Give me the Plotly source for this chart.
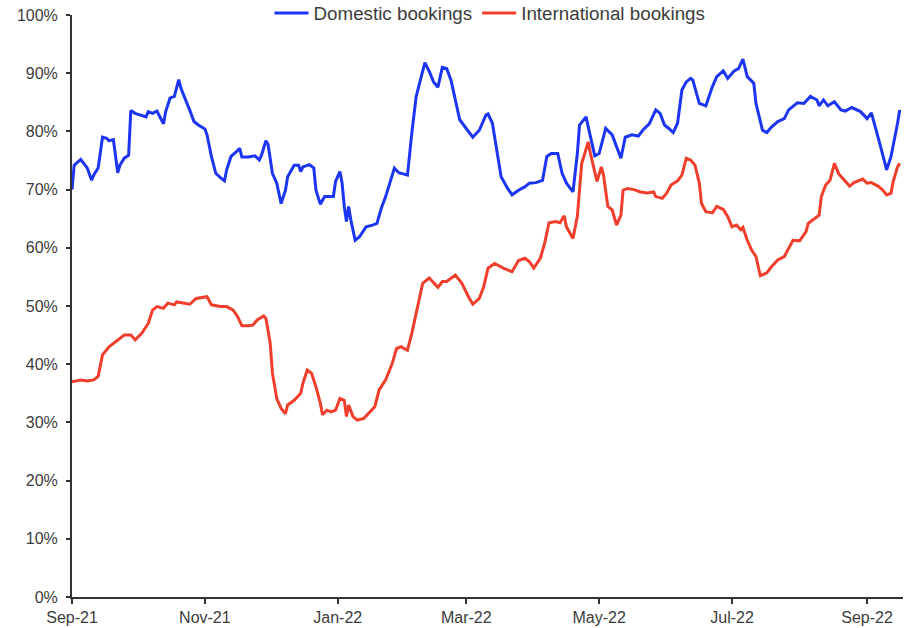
"""Domestic vs international bookings, Sep-21 to Sep-22."""

import pandas as pd
import plotly.graph_objects as go

START = pd.Timestamp("2021-09-01")

# days since 1 Sep 2021, value in %
dom_day = [0, 1, 4, 6, 7, 9, 10, 12, 14, 16, 17, 19, 21, 22, 24, 26, 27, 29, 32, 34, 35, 37, 39, 40, 42, 43,
           45, 47, 49, 50, 52, 54, 56, 58, 61, 62, 64, 66, 68, 70, 71, 73, 76, 77, 78, 81, 84, 86, 87, 89, 90,
           92, 94, 96, 98, 99, 102, 104, 105, 106, 109, 111, 112, 114, 116, 118, 120, 121, 123, 124, 125, 126,
           127, 128, 130, 132, 135, 138, 140, 142, 144, 148, 150, 152, 154, 156, 158, 162, 164, 166, 168, 170,
           172, 174, 176, 178, 181, 184, 187, 190, 191, 193, 195, 197, 200, 202, 205, 208, 210, 213, 216, 218,
           220, 223, 225, 227, 230, 232, 233, 236, 238, 240, 242, 244, 245, 248, 250, 252, 254, 257, 260, 262,
           265, 268, 270, 272, 274, 276, 278, 280, 282, 284, 285, 288, 291, 294, 296, 299, 301, 304, 306, 308,
           310, 313, 314, 317, 319, 321, 324, 327, 329, 333, 336, 339, 342, 343, 345, 347, 350, 353, 355, 358,
           362, 365, 367, 369, 371, 374, 376, 379, 380]
dom_val = [70.0, 74.2, 75.2, 74.2, 73.7, 71.6, 72.5, 73.7, 79.0, 78.8, 78.4, 78.6, 72.9, 74.2, 75.4, 75.9,
           83.6, 83.1, 82.8, 82.5, 83.4, 83.1, 83.5, 82.8, 81.3, 83.4, 85.7, 86.0, 88.9, 87.4, 85.7, 83.7,
           81.7, 81.1, 80.4, 79.4, 75.7, 72.8, 72.1, 71.5, 73.4, 75.7, 76.7, 77.1, 75.6, 75.6, 75.8, 75.1,
           75.9, 78.4, 77.8, 72.8, 71.1, 67.6, 69.9, 72.2, 74.2, 74.2, 73.1, 73.9, 74.3, 73.7, 69.9, 67.5,
           68.8, 68.8, 68.8, 71.4, 73.1, 71.1, 67.1, 64.5, 67.1, 64.8, 61.3, 61.9, 63.6, 63.9, 64.2, 66.8,
           68.8, 73.7, 72.9, 72.7, 72.5, 79.7, 86.0, 91.8, 90.3, 88.5, 87.6, 91.0, 90.8, 88.8, 85.4, 82.0,
           80.5, 79.0, 80.2, 82.8, 83.0, 81.4, 76.8, 72.2, 70.2, 69.1, 69.9, 70.5, 71.1, 71.2, 71.6, 75.7,
           76.2, 76.2, 72.8, 71.1, 69.6, 76.2, 81.1, 82.5, 79.1, 75.8, 76.2, 78.8, 80.5, 79.4, 77.4, 75.4,
           79.0, 79.4, 79.2, 80.2, 81.3, 83.7, 83.1, 81.1, 80.5, 79.8, 81.4, 87.1, 88.5, 89.1, 88.8, 84.8,
           84.4, 87.7, 89.4, 90.4, 89.1, 90.4, 90.8, 92.4, 89.4, 88.3, 84.8, 80.2, 79.8, 80.7, 81.7, 82.2,
           83.7, 84.9, 84.8, 86.0, 85.4, 84.4, 85.4, 84.4, 85.1, 83.7, 83.5, 84.1, 83.4, 82.2, 83.2, 80.2,
           77.7, 73.4, 75.7, 81.4, 83.7]

intl_day = [0, 4, 7, 10, 12, 14, 17, 19, 21, 24, 27, 29, 32, 35, 37, 39, 42, 44, 47, 48, 51, 54, 57, 62, 64,
            68, 71, 74, 76, 78, 81, 83, 85, 88, 89, 91, 92, 94, 96, 98, 99, 102, 105, 106, 108, 110, 112, 114,
            115, 117, 119, 121, 123, 125, 126, 127, 129, 131, 134, 136, 139, 141, 144, 147, 149, 151, 154, 156,
            158, 161, 164, 166, 168, 170, 172, 176, 179, 182, 184, 187, 189, 191, 194, 198, 202, 205, 208, 210,
            212, 215, 217, 219, 222, 224, 226, 227, 230, 232, 234, 235, 237, 238, 240, 241, 243, 244, 246, 248,
            250, 252, 253, 255, 258, 261, 264, 267, 268, 271, 273, 275, 278, 280, 282, 284, 286, 288, 289, 291,
            294, 296, 299, 301, 303, 305, 307, 308, 310, 312, 314, 316, 319, 321, 324, 327, 329, 331, 334, 337,
            338, 341, 343, 344, 346, 348, 350, 352, 354, 357, 359, 363, 365, 367, 370, 372, 374, 376, 377, 379,
            380]
intl_val = [37.0, 37.3, 37.1, 37.3, 37.9, 41.6, 43.0, 43.6, 44.2, 45.0, 45.0, 44.2, 45.3, 47.0, 49.3, 49.9,
            49.6, 50.5, 50.2, 50.7, 50.5, 50.3, 51.3, 51.6, 50.2, 49.9, 49.9, 49.3, 48.2, 46.6, 46.6, 46.7,
            47.6, 48.3, 47.9, 43.6, 38.5, 34.1, 32.4, 31.5, 33.0, 33.8, 35.0, 36.7, 39.0, 38.4, 36.1, 33.3,
            31.3, 32.1, 31.8, 32.1, 34.1, 33.8, 31.0, 33.0, 31.0, 30.4, 30.7, 31.5, 32.7, 35.6, 37.3, 40.1,
            42.7, 43.0, 42.4, 45.3, 48.7, 53.9, 54.8, 53.9, 53.2, 54.2, 54.2, 55.3, 53.9, 51.6, 50.3, 51.3,
            53.3, 56.5, 57.3, 56.5, 55.9, 57.8, 58.2, 57.6, 56.5, 58.2, 60.8, 64.3, 64.5, 64.3, 65.5, 63.6,
            61.6, 65.4, 74.5, 75.7, 78.2, 76.2, 72.8, 71.4, 73.9, 72.5, 67.1, 66.5, 63.9, 65.6, 69.9, 70.2,
            70.0, 69.6, 69.4, 69.6, 68.8, 68.5, 69.4, 70.8, 71.5, 72.5, 75.4, 75.1, 74.2, 71.1, 67.6, 66.2,
            66.0, 67.1, 66.6, 65.4, 63.6, 63.9, 63.1, 63.5, 61.3, 59.6, 58.5, 55.2, 55.7, 56.7, 57.9, 58.5,
            59.9, 61.3, 61.2, 62.8, 64.2, 65.0, 65.6, 68.8, 70.8, 71.6, 74.5, 72.7, 71.9, 70.6, 71.2, 71.8,
            71.1, 71.2, 70.6, 70.0, 69.1, 69.4, 71.4, 73.9, 74.5]


def to_dates(days):
    return START + pd.to_timedelta(days, unit="D")


def bookings_chart() -> go.Figure:
    fig = go.Figure()
    fig.add_trace(go.Scatter(x=to_dates(dom_day), y=dom_val, mode="lines", name="Domestic bookings",
                             line=dict(color="#1c35f2", width=3)))
    fig.add_trace(go.Scatter(x=to_dates(intl_day), y=intl_val, mode="lines", name="International bookings",
                             line=dict(color="#ef3f2c", width=3)))

    axis_col = "#333333"
    fig.update_layout(
        width=906, height=628,
        margin=dict(l=72, r=3, t=15, b=31, autoexpand=False),
        paper_bgcolor="white", plot_bgcolor="white",
        font=dict(family="Liberation Sans, Arial, sans-serif", size=16, color="#3c3c3c"),
        showlegend=True,
        legend=dict(orientation="h", x=0.503, xanchor="center", y=1.003, yanchor="middle",
                    font=dict(size=18.8), bgcolor="rgba(0,0,0,0)", itemwidth=34,
                    tracegroupgap=0),
    )
    fig.update_xaxes(
        range=[START, START + pd.Timedelta(days=381.5)],
        tick0="2021-09-01", dtick="M2", tickformat="%b-%y",
        showgrid=False, zeroline=False,
        showline=True, linecolor=axis_col, linewidth=2,
        ticks="outside", ticklen=5, tickwidth=2, tickcolor=axis_col,
    )
    fig.update_yaxes(
        range=[0, 100], dtick=10, ticksuffix="%",
        showgrid=False, zeroline=False,
        showline=True, linecolor=axis_col, linewidth=2,
        ticks="outside", ticklen=4, tickwidth=2, tickcolor=axis_col,
        ticklabelstandoff=5,
    )
    return fig


fig = bookings_chart()
# drop the page's default 8px body margin so the figure sits at the window's corner
fig.write_html("out.html", config={"displayModeBar": False},
               post_script="document.body.style.margin = '0';")
